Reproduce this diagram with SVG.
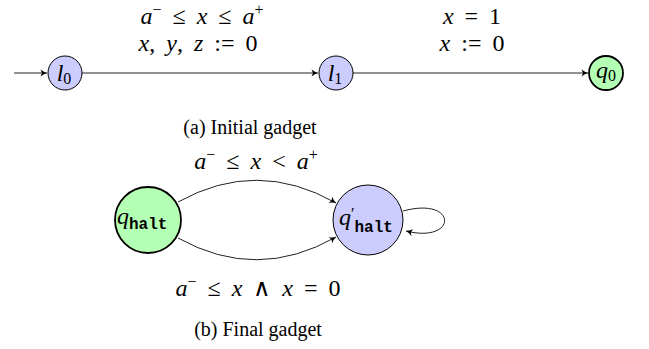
<svg xmlns="http://www.w3.org/2000/svg" width="649" height="349" viewBox="0 0 649 349">
<style>
.blue{fill:#ccccff;stroke:#000;stroke-width:1}
.green{fill:#b3ffb3;stroke:#000;stroke-width:1.8}
.edge{fill:none;stroke:#222;stroke-width:1}
.m{font-family:'Liberation Serif','Times New Roman',serif;font-size:24px;fill:#000;word-spacing:5px}
.i{font-style:italic}
.sup{font-size:16px}
.sub{font-size:16px}
.tt{font-family:'Liberation Mono','Courier New',monospace;font-size:16px;font-weight:bold;font-style:normal}
.cap{font-family:'Liberation Serif','Times New Roman',serif;font-size:20px;fill:#000}
</style>
<defs>
<marker id="arr" viewBox="-6 -4 8 8" refX="1.5" refY="0" markerWidth="8" markerHeight="8" markerUnits="userSpaceOnUse" orient="auto">
<path d="M-5,-3.5 Q-1.5,-0.8 1.5,0 Q-1.5,0.8 -5,3.5 L-3.5,0 Z" fill="#000"/>
</marker>
</defs>
<g id="connectors">
<line class="edge" x1="14" y1="73" x2="47" y2="73" marker-end="url(#arr)"/>
<line class="edge" x1="82" y1="73" x2="318" y2="73" marker-end="url(#arr)"/>
<line class="edge" x1="353" y1="73" x2="588" y2="73" marker-end="url(#arr)"/>
<path class="edge" d="M178,202 Q257,158 336,203" marker-end="url(#arr)"/>
<path class="edge" d="M178,238 Q257,282 336,237" marker-end="url(#arr)"/>
<path class="edge" d="M403,211 C458,196 458,244 406,231" marker-end="url(#arr)"/>
</g>
<g id="l0">
<circle class="blue" cx="65" cy="73" r="17"/>
<text class="m" x="64" y="81" text-anchor="middle"><tspan class="i">l</tspan><tspan class="sub" dy="3">0</tspan></text>
</g>
<g id="l1">
<circle class="blue" cx="336" cy="73" r="17"/>
<text class="m" x="335" y="81" text-anchor="middle"><tspan class="i">l</tspan><tspan class="sub" dy="3">1</tspan></text>
</g>
<g id="q0">
<circle class="green" cx="606" cy="73" r="17"/>
<text class="m" x="606" y="78" text-anchor="middle"><tspan class="i">q</tspan><tspan class="sub" dy="3">0</tspan></text>
</g>
<g id="qhalt">
<circle class="green" cx="148" cy="220" r="33"/>
<text class="m" x="117" y="224"><tspan class="i">q</tspan><tspan class="tt" dy="5">halt</tspan></text>
</g>
<g id="qhalt2">
<circle class="blue" cx="368" cy="220" r="35"/>
<text class="m" x="339" y="225"><tspan class="i">q</tspan><tspan font-size="16" dy="-6">′</tspan><tspan class="tt" dy="13">halt</tspan></text>
</g>
<g id="labels" xml:space="preserve">
<text class="m" x="202" y="24" text-anchor="middle"><tspan class="i">a</tspan><tspan class="sup" dy="-9">−</tspan><tspan dy="9"> ≤ </tspan><tspan class="i">x</tspan> ≤ <tspan class="i">a</tspan><tspan class="sup" dy="-9">+</tspan></text>
<text class="m" x="198" y="51" text-anchor="middle"><tspan class="i">x</tspan>, <tspan class="i">y</tspan>, <tspan class="i">z</tspan> := 0</text>
<text class="m" x="472" y="24" text-anchor="middle"><tspan class="i">x</tspan> = 1</text>
<text class="m" x="472" y="51" text-anchor="middle"><tspan class="i">x</tspan> := 0</text>
<text class="cap" x="250" y="134" text-anchor="middle">(a) Initial gadget</text>
<text class="m" x="256" y="169" text-anchor="middle"><tspan class="i">a</tspan><tspan class="sup" dy="-9">−</tspan><tspan dy="9"> ≤ </tspan><tspan class="i">x</tspan> &lt; <tspan class="i">a</tspan><tspan class="sup" dy="-9">+</tspan></text>
<text class="m" x="258" y="296" text-anchor="middle"><tspan class="i">a</tspan><tspan class="sup" dy="-9">−</tspan><tspan dy="9"> ≤ </tspan><tspan class="i">x</tspan> ∧ <tspan class="i">x</tspan> = 0</text>
<text class="cap" x="258" y="336" text-anchor="middle">(b) Final gadget</text>
</g>
</svg>
